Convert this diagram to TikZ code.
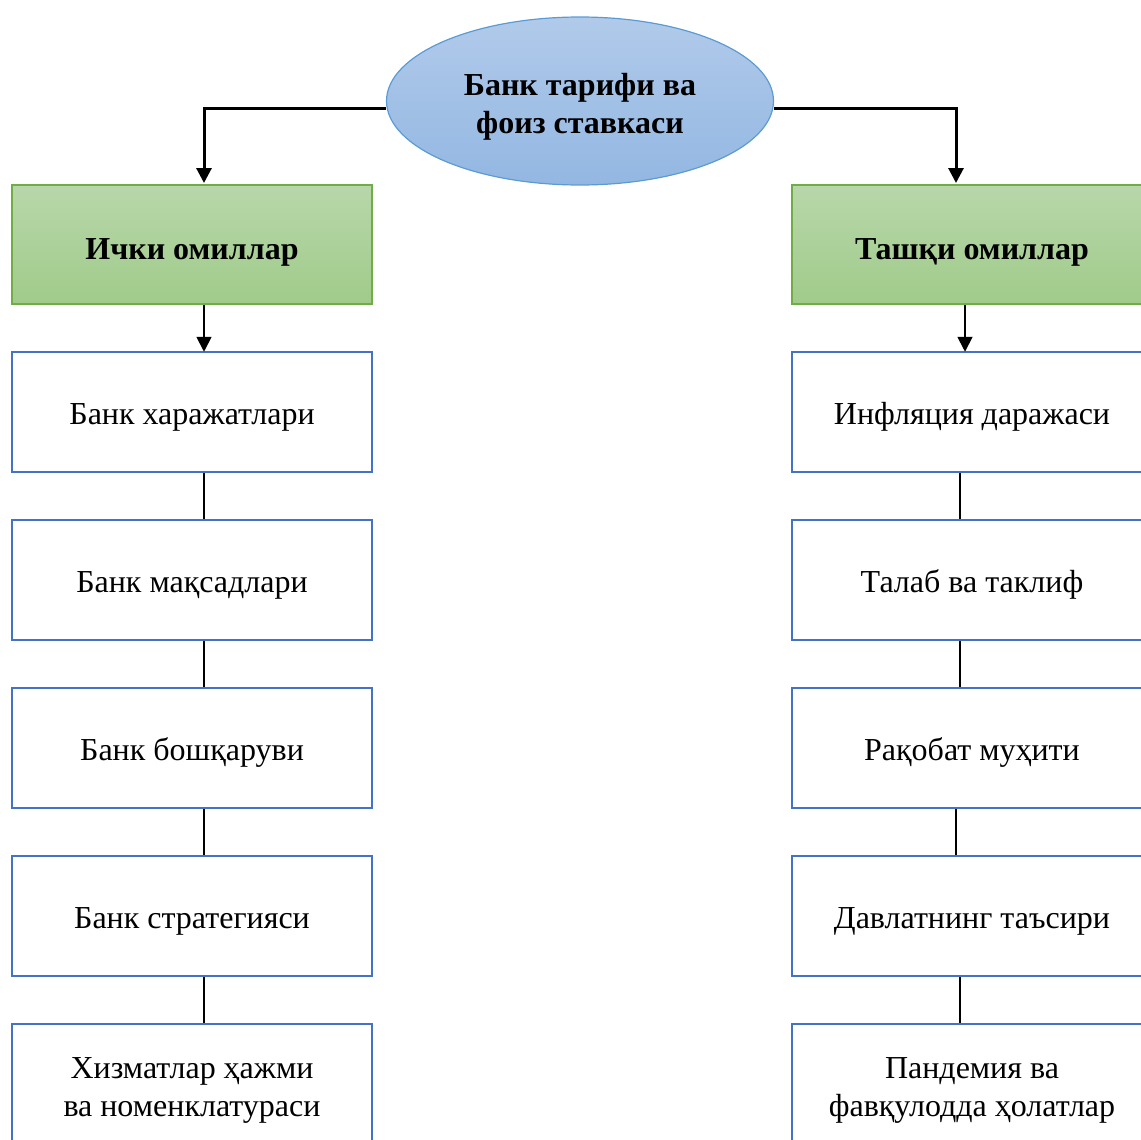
\documentclass[tikz,border=0pt]{standalone}
\usepackage{fontspec}
\setmainfont{Liberation Serif}
\usetikzlibrary{arrows.meta,shapes.geometric}
\definecolor{boxblue}{HTML}{4472C4}
\definecolor{grnborder}{HTML}{70AD47}
\definecolor{grntop}{HTML}{B8D7AA}
\definecolor{grnbot}{HTML}{A0CB8A}
\definecolor{elltop}{HTML}{B1CAEA}
\definecolor{ellbot}{HTML}{93B7E2}
\definecolor{ellborder}{HTML}{5B9BD5}
\tikzset{
  whitebox/.style={draw=boxblue, line width=2.5pt, fill=white, minimum width=360pt, minimum height=120pt, inner sep=0pt, align=center, font=\fontsize{32}{38}\selectfont, text height=26pt, text depth=1pt},
  greenbox/.style={draw=grnborder, line width=1.5pt, top color=grntop, bottom color=grnbot, minimum width=360pt, minimum height=119pt, inner sep=0pt},
  rootell/.style={ellipse, draw=ellborder, line width=1.2pt, top color=elltop, bottom color=ellbot, minimum width=387pt, minimum height=168pt, inner sep=0pt},
  boldtxt/.style={font=\fontsize{32}{38}\selectfont\bfseries, align=center, inner sep=0pt},
  plaintxt/.style={font=\fontsize{32}{38}\selectfont, align=center, inner sep=0pt},
  thickarrow/.style={line width=3pt, -{Triangle[width=15pt,length=15pt]}},
  thinarrow/.style={line width=1.8pt, -{Triangle[width=15pt,length=15pt]}},
  link/.style={line width=1.8pt}
}
\begin{document}
\begin{tikzpicture}[x=1pt,y=-1pt]
\useasboundingbox (0,0) rectangle (1141,1140);
\clip (0,0) rectangle (1141,1140);
\node[rootell] (root) at (580,101) {};
\node[boldtxt] (roottxt) at (580,107) {Банк тарифи ва\\фоиз ставкаси};
\node[greenbox] (inL) at (192,244.5) {};
\node[boldtxt] (inLt) at (192,252) {Ички омиллар};
\node[greenbox] (exL) at (972,244.5) {};
\node[boldtxt] (exLt) at (972,252) {Ташқи омиллар};
\node[whitebox] (l1) at (192,412) {Банк харажатлари};
\node[whitebox] (l2) at (192,580) {Банк мақсадлари};
\node[whitebox] (l3) at (192,748) {Банк бошқаруви};
\node[whitebox] (l4) at (192,916) {Банк стратегияси};
\node[whitebox] (l5) at (192,1084) {};
\node[plaintxt] (l5t) at (192,1090) {Хизматлар ҳажми\\ва номенклатураси};
\node[whitebox] (r1) at (972,412) {Инфляция даражаси};
\node[whitebox] (r2) at (972,580) {Талаб ва таклиф};
\node[whitebox] (r3) at (972,748) {Рақобат муҳити};
\node[whitebox] (r4) at (972,916) {Давлатнинг таъсири};
\node[whitebox] (r5) at (972,1084) {};
\node[plaintxt] (r5t) at (972,1090) {Пандемия ва\\фавқулодда ҳолатлар};
\coordinate (ltop) at (204,183);
\coordinate (rtop) at (956,183);
\draw[thickarrow] ([yshift=-7pt]root.west) -| (ltop);
\draw[thickarrow] ([yshift=-7pt]root.east) -| (rtop);
\draw[thinarrow] ([xshift=12pt]inL.south) -- ([xshift=12pt,yshift=-1pt]l1.north);
\draw[thinarrow] ([xshift=-7pt]exL.south) -- ([xshift=-7pt,yshift=-1pt]r1.north);
\foreach \a/\b in {l1/l2,l2/l3,l3/l4,l4/l5}{
  \draw[link] ([xshift=12pt]\a.south) -- ([xshift=12pt]\b.north);
}
\foreach \a/\b/\s in {r1/r2/-12,r2/r3/-12,r3/r4/-16,r4/r5/-12}{
  \draw[link] ([xshift=\s pt]\a.south) -- ([xshift=\s pt]\b.north);
}
\end{tikzpicture}
\end{document}
